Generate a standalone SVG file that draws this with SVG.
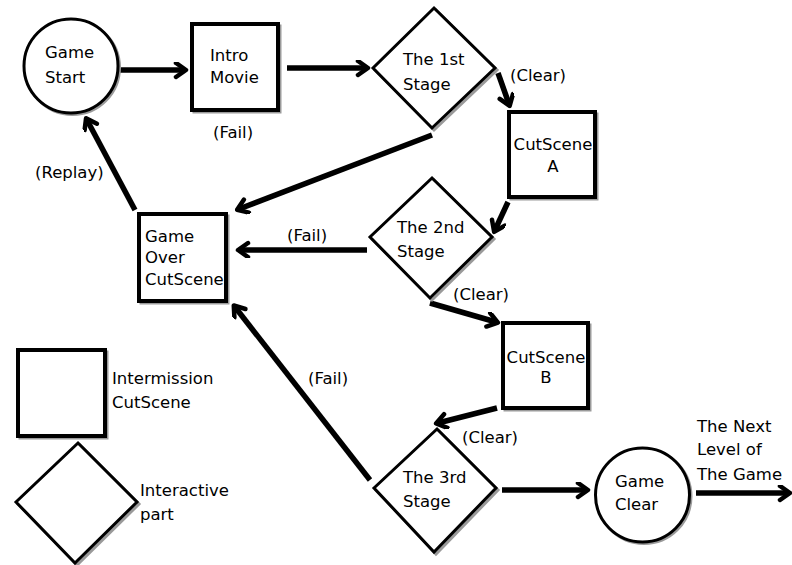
<svg xmlns="http://www.w3.org/2000/svg" width="792" height="565" viewBox="0 0 792 565">
  <style>
    text { font-family: "DejaVu Sans", "Liberation Sans", sans-serif; font-size: 16.5px; fill: #000; }
    .box { fill: #fff; stroke: #000; stroke-width: 4; }
    .dia { fill: #fff; stroke: #000; stroke-width: 3; stroke-linejoin: miter; }
    .circ { fill: #fff; stroke: #000; stroke-width: 3; }
    .shadow { fill: none; stroke: #9a9a9a; stroke-width: 3; }
    .conn { stroke: #000; stroke-width: 5.5; fill: none; marker-end: url(#head); }
    .mid { text-anchor: middle; }
  </style>
  <defs>
    <marker id="head" markerUnits="userSpaceOnUse" markerWidth="20" markerHeight="20" refX="11" refY="8" orient="auto">
      <path d="M3,1 L13,8 L3,15" fill="none" stroke="#000" stroke-width="4.5" stroke-linejoin="round" stroke-linecap="round"/>
    </marker>
  </defs>

  <rect width="792" height="565" fill="#fff"/>

  <!-- connectors -->
  <g id="connectors">
    <line class="conn" x1="120" y1="70" x2="184" y2="70"/>
    <line class="conn" x1="287" y1="68" x2="366" y2="68"/>
    <line class="conn" x1="498" y1="73" x2="509" y2="104"/>
    <line class="conn" x1="432" y1="135" x2="239" y2="209"/>
    <line class="conn" x1="135" y1="210" x2="87" y2="120"/>
    <line class="conn" x1="367" y1="250" x2="240" y2="250"/>
    <line class="conn" x1="508" y1="202" x2="495" y2="230"/>
    <line class="conn" x1="430" y1="303" x2="496" y2="322"/>
    <line class="conn" x1="497" y1="408" x2="438" y2="423"/>
    <line class="conn" x1="370" y1="480" x2="235" y2="307"/>
    <line class="conn" x1="502" y1="490" x2="586" y2="490"/>
    <line class="conn" x1="696" y1="493" x2="788" y2="493"/>
  </g>

  <!-- edge labels -->
  <g id="edge-labels">
    <text x="213" y="138">(Fail)</text>
    <text x="510" y="81">(Clear)</text>
    <text x="35" y="178">(Replay)</text>
    <text x="287" y="241">(Fail)</text>
    <text x="453" y="300">(Clear)</text>
    <text x="462" y="443">(Clear)</text>
    <text x="308" y="384">(Fail)</text>
  </g>

  <g id="game-start">
    <circle class="shadow" cx="72.5" cy="67.5" r="47"/>
    <circle class="circ" cx="71" cy="66" r="47"/>
    <text x="45" y="58">Game</text>
    <text x="45" y="83">Start</text>
  </g>

  <g id="intro-movie">
    <rect class="shadow" x="194" y="26" width="86" height="86"/>
    <rect class="box" x="192" y="24" width="86" height="86"/>
    <text x="210" y="61">Intro</text>
    <text x="210" y="83">Movie</text>
  </g>

  <g id="stage-1">
    <polygon class="shadow" points="436,10 497,70 434,130 375,70"/>
    <polygon class="dia" points="434,8 495,68 432,128 373,68"/>
    <text x="403" y="65">The 1st</text>
    <text x="403" y="90">Stage</text>
  </g>

  <g id="cutscene-a">
    <rect class="shadow" x="511" y="114" width="86" height="85"/>
    <rect class="box" x="509" y="112" width="86" height="85"/>
    <text class="mid" x="553" y="150">CutScene</text>
    <text class="mid" x="553" y="172">A</text>
  </g>

  <g id="game-over">
    <rect class="shadow" x="141" y="216" width="87" height="87"/>
    <rect class="box" x="139" y="214" width="87" height="87"/>
    <text x="145" y="242">Game</text>
    <text x="145" y="263">Over</text>
    <text x="145" y="285">CutScene</text>
  </g>

  <g id="stage-2">
    <polygon class="shadow" points="434,180 494,239 432,300 372,239"/>
    <polygon class="dia" points="432,178 492,237 430,298 370,237"/>
    <text x="397" y="233">The 2nd</text>
    <text x="397" y="257">Stage</text>
  </g>

  <g id="cutscene-b">
    <rect class="shadow" x="505" y="325" width="85" height="85"/>
    <rect class="box" x="503" y="323" width="85" height="85"/>
    <text class="mid" x="546" y="363">CutScene</text>
    <text class="mid" x="546" y="383">B</text>
  </g>

  <g id="stage-3">
    <polygon class="shadow" points="439,431 498,490 436,554 376,490"/>
    <polygon class="dia" points="437,429 496,488 434,552 374,488"/>
    <text x="403" y="483">The 3rd</text>
    <text x="403" y="507">Stage</text>
  </g>

  <g id="game-clear">
    <circle class="shadow" cx="644" cy="496.5" r="47"/>
    <circle class="circ" cx="642.5" cy="495" r="47"/>
    <text x="615" y="487">Game</text>
    <text x="615" y="510">Clear</text>
  </g>

  <g id="next-level">
    <text x="697" y="432">The Next</text>
    <text x="697" y="455">Level of</text>
    <text x="697" y="480">The Game</text>
  </g>

  <!-- legend -->
  <g id="legend-cutscene">
    <rect class="shadow" x="20" y="352" width="87" height="86"/>
    <rect class="box" x="18" y="350" width="87" height="86"/>
    <text x="112" y="384">Intermission</text>
    <text x="112" y="408">CutScene</text>
  </g>

  <g id="legend-interactive">
    <polygon class="shadow" points="80,445 139,504 77,565 18,504"/>
    <polygon class="dia" points="78,443 137,502 75,563 16,502"/>
    <text x="140" y="496">Interactive</text>
    <text x="140" y="520">part</text>
  </g>
</svg>
